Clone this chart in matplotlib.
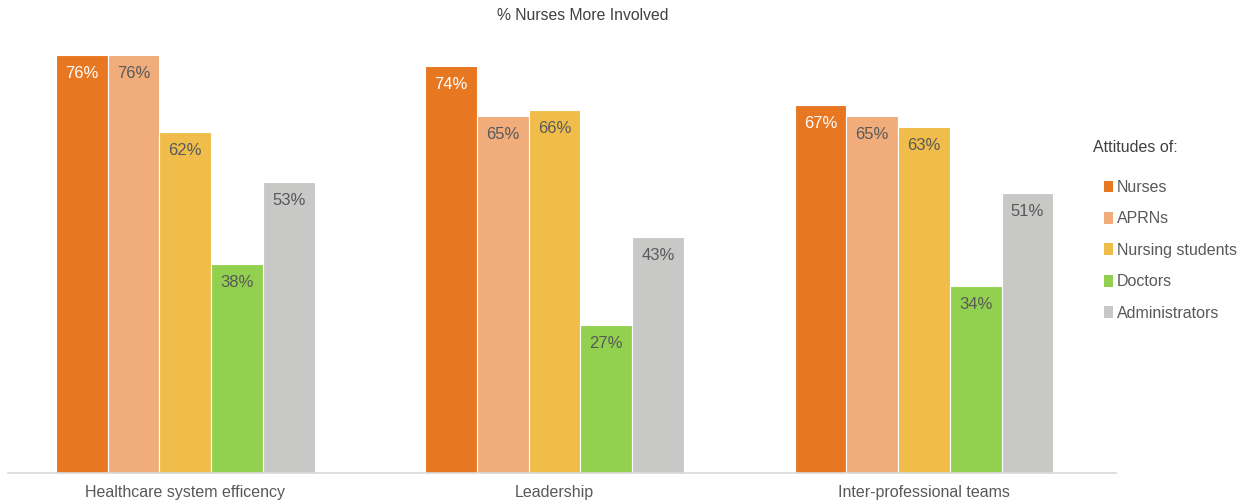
import matplotlib.pyplot as plt
import numpy as np

plt.rcParams['font.family'] = ['Liberation Sans', 'DejaVu Sans']

categories = ['Healthcare system efficency', 'Leadership', 'Inter-professional teams']
groups = ['Nurses', 'APRNs', 'Nursing students', 'Doctors', 'Administrators']
nurses = [76, 74, 67]
aprns = [76, 65, 65]
students = [62, 66, 63]
doctors = [38, 27, 34]
admins = [53, 43, 51]
series = [nurses, aprns, students, doctors, admins]

colors = ['#E87722', '#F0AD7B', '#F0BD4B', '#92D050', '#C8C8C7']
label_colors = ['white', '#595959', '#595959', '#595959', '#595959']

fig = plt.figure(figsize=(12.41, 5.01), dpi=100)
ax = fig.add_axes([8 / 1241, 28 / 501, 1108 / 1241, 440 / 501])

x = np.arange(len(categories))
w = 0.14
for i, vals in enumerate(series):
    pos = x + (i - 2) * w
    bars = ax.bar(pos, vals, w, color=colors[i], edgecolor='white', linewidth=0.8,
                  label=groups[i])
    for b, v in zip(bars, vals):
        ax.annotate(f'{v}%', (b.get_x() + b.get_width() / 2, v),
                    xytext=(0, -8), textcoords='offset points',
                    ha='center', va='top', fontsize=12, color=label_colors[i])

ax.set_xlim(-0.48, 2.52)
ax.set_ylim(0, 80)
ax.set_xticks(x)
ax.set_xticklabels(categories, fontsize=11.5, color='#595959')
ax.tick_params(axis='x', length=0, pad=9)
ax.set_yticks([])
for s in ['top', 'right', 'left']:
    ax.spines[s].set_visible(False)
ax.spines['bottom'].set_color('#D9D9D9')
ax.spines['bottom'].set_linewidth(1.2)

fig.text(583 / 1241, 1 - 16 / 501, '% Nurses More Involved', ha='center', va='center',
         fontsize=11.3, color='#404040')

fig.text(1093 / 1241, 1 - 147 / 501, 'Attitudes of:', ha='left', va='center',
         fontsize=11.5, color='#404040')
leg = fig.legend(loc='upper left', bbox_to_anchor=(1104 / 1241, 1 - 180 / 501),
                 frameon=False, fontsize=11.5, borderpad=0, borderaxespad=0,
                 handlelength=0.55, handleheight=0.75,
                 handletextpad=0.25, labelspacing=1.03)
for t in leg.get_texts():
    t.set_color('#595959')
for h in leg.legend_handles:
    h.set_linewidth(0)

fig.savefig('out.png', dpi=100)
